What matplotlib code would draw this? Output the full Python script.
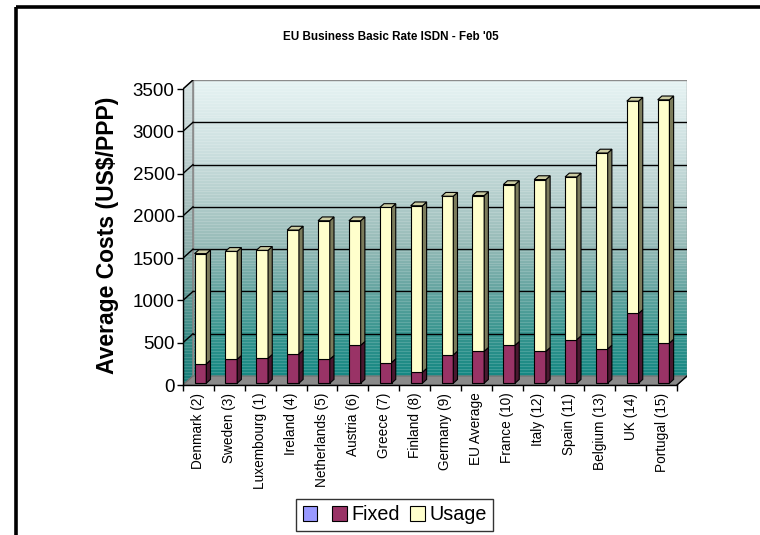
import numpy as np
import matplotlib
matplotlib.use("Agg")
import matplotlib.pyplot as plt
from matplotlib.patches import Polygon, Patch
from matplotlib.lines import Line2D
from matplotlib.colors import LinearSegmentedColormap

plt.rcParams['font.family'] = ['Liberation Sans', 'DejaVu Sans']

# ---- data -------------------------------------------------------------
countries = ["Denmark (2)", "Sweden (3)", "Luxembourg (1)", "Ireland (4)",
             "Netherlands (5)", "Austria (6)", "Greece (7)", "Finland (8)",
             "Germany (9)", "EU Average", "France (10)", "Italy (12)",
             "Spain (11)", "Belgium (13)", "UK (14)", "Portugal (15)"]
fixed = [228, 283, 295, 346, 283, 448, 244, 130, 334, 377, 448, 377, 515, 405, 825, 475]
usage = [1304, 1276, 1276, 1465, 1638, 1473, 1834, 1968, 1877, 1842, 1901, 2031, 1924, 2317, 2510, 2876]
yticks = [0, 500, 1000, 1500, 2000, 2500, 3000, 3500]

title = "EU Business Basic Rate ISDN - Feb '05"
ylabel = "Average Costs (US$/PPP)"

# ---- colours ----------------------------------------------------------
FIXED = "#993366"
FIXED_SIDE = "#4a1830"
USAGE = "#FFFFCC"
USAGE_SIDE = "#7c7c5c"
USAGE_TOP = "#cdcda3"
EMPTY = "#9999FF"
FLOOR = "#8a8a8a"

wall_cmap = LinearSegmentedColormap.from_list(
    "wall", [(0.0, "#168883"), (0.15, "#3a9690"), (0.3, "#68a6a2"),
             (0.45, "#97bbb8"), (0.6, "#b4cecc"), (0.78, "#cee1e1"),
             (1.0, "#e6f3f3")])

# ---- figure -----------------------------------------------------------
W, H = 760, 535
fig = plt.figure(figsize=(W / 100, H / 100), dpi=100)
fig.patch.set_facecolor("white")

# outer frame (top and left edges)
fig.add_artist(Line2D([15.5 / W, 1.0], [1 - 7 / H, 1 - 7 / H], color="black",
                      lw=2.6, transform=fig.transFigure, solid_capstyle="butt"))
fig.add_artist(Line2D([15.5 / W, 15.5 / W], [0, 1 - 7 / H], color="black",
                      lw=2.6, transform=fig.transFigure, solid_capstyle="butt"))

ax = fig.add_axes([183 / W, 150 / H, 504 / W, 305 / H])
n = len(countries)
x = np.arange(n)
ymax = yticks[-1]
dxc = 10 / 30.875            # depth offset in category units
dyv = 9 * ymax / 296         # depth offset in value units
ax.set_xlim(-0.5, n - 0.5 + dxc)
ax.set_ylim(0, ymax + dyv)
ax.set_facecolor("none")

# gradient walls with fine horizontal banding
rows = 300
grad = wall_cmap(np.linspace(0, 1, rows))[:, :3]
band = (np.arange(rows) % 3 == 0)
grad[band] = grad[band] * 0.85 + 0.15
img = grad[::-1].reshape(rows, 1, 3)

ax.imshow(img, extent=(-0.5 + dxc, n - 0.5 + dxc, dyv, ymax + dyv),
          aspect="auto", interpolation="nearest", zorder=0)
side_poly = Polygon([(-0.5, 0), (-0.5 + dxc, dyv), (-0.5 + dxc, ymax + dyv),
                     (-0.5, ymax)], closed=True, facecolor="none",
                    edgecolor="#808080", lw=1.0, zorder=1)
ax.add_patch(side_poly)
side_img = ax.imshow(img * 0.93, extent=(-0.5, -0.5 + dxc, 0, ymax + dyv),
                     aspect="auto", interpolation="nearest", zorder=0)
side_img.set_clip_path(side_poly)

# back wall outline
ax.add_patch(Polygon([(-0.5 + dxc, dyv), (n - 0.5 + dxc, dyv),
                      (n - 0.5 + dxc, ymax + dyv), (-0.5 + dxc, ymax + dyv)],
                     closed=True, facecolor="none", edgecolor="#8c8c8c",
                     lw=1.0, zorder=1))

# floor
ax.add_patch(Polygon([(-0.5, 0), (n - 0.5, 0), (n - 0.5 + dxc, dyv),
                      (-0.5 + dxc, dyv)], closed=True, facecolor=FLOOR,
                     edgecolor="#6e6e6e", lw=0.8, zorder=1))
ax.plot([n - 0.5, n - 0.5 + dxc], [0, dyv], color="black", lw=1.0, zorder=2)

# gridlines on back and side wall
for v in yticks[1:-1]:
    ax.plot([-0.5 + dxc, n - 0.5 + dxc], [v + dyv, v + dyv], color="black",
            lw=1.0, zorder=2)
    ax.plot([-0.5, -0.5 + dxc], [v, v + dyv], color="black", lw=1.0, zorder=2)
ax.plot([-0.5, -0.5 + dxc], [ymax, ymax + dyv], color="black", lw=1.0, zorder=2)

# bars with 3-D side and top faces
f = 0.2           # front face position within the depth
w = 0.38          # bar width
sd = 0.42         # bar depth as a fraction of the wall depth
xc = x + f * dxc
base = f * dyv
fixed_a = np.array(fixed, dtype=float)
usage_a = np.array(usage, dtype=float)
ax.bar(xc, fixed_a, w, bottom=base, color=FIXED, edgecolor="black", lw=0.8,
       zorder=4)
ax.bar(xc, usage_a, w, bottom=base + fixed_a, color=USAGE, edgecolor="black",
       lw=0.8, zorder=4)

ddx, ddy = sd * dxc, sd * dyv
for i in range(n):
    x1 = xc[i] + w / 2
    x0 = xc[i] - w / 2
    y0 = base
    y1 = base + fixed_a[i]
    y2 = y1 + usage_a[i]
    ax.add_patch(Polygon([(x1, y0), (x1 + ddx, y0 + ddy), (x1 + ddx, y1 + ddy),
                          (x1, y1)], closed=True, facecolor=FIXED_SIDE,
                         edgecolor="black", lw=0.8, zorder=4))
    ax.add_patch(Polygon([(x1, y1), (x1 + ddx, y1 + ddy), (x1 + ddx, y2 + ddy),
                          (x1, y2)], closed=True, facecolor=USAGE_SIDE,
                         edgecolor="black", lw=0.8, zorder=4))
    ax.add_patch(Polygon([(x0, y2), (x1, y2), (x1 + ddx, y2 + ddy),
                          (x0 + ddx, y2 + ddy)], closed=True,
                         facecolor=USAGE_TOP, edgecolor="black", lw=0.8,
                         zorder=4))

# axes, ticks and labels
for s in ("top", "right"):
    ax.spines[s].set_visible(False)
ax.spines["left"].set_bounds(0, ymax)
ax.spines["bottom"].set_bounds(-0.5, n - 0.5)
for s in ("left", "bottom"):
    ax.spines[s].set_linewidth(1.0)
    ax.spines[s].set_zorder(5)

ax.set_yticks(yticks)
ax.set_yticklabels([str(v) for v in yticks])
ax.tick_params(axis="y", length=4, width=1.0, pad=2, labelsize=13.5)

ax.set_xticks(x)
ax.set_xticklabels(countries, rotation=90, fontsize=9.8)
ax.set_xticks(np.arange(-0.5, n, 1.0), minor=True)
ax.tick_params(axis="x", which="major", length=0, pad=5.5)
ax.tick_params(axis="x", which="minor", length=4, width=1.0)

fig.text(391 / W, 1 - 37 / H, title, ha="center", va="center",
         fontsize=8.4, fontweight="bold")
fig.text(108 / W, 1 - 235 / H, ylabel, ha="center", va="center",
         rotation=90, fontsize=16.5, fontweight="bold")

handles = [Patch(facecolor=EMPTY, edgecolor="black", lw=0.8),
           Patch(facecolor=FIXED, edgecolor="black", lw=0.8),
           Patch(facecolor=USAGE, edgecolor="black", lw=0.8)]
leg = fig.legend(handles, ["", "Fixed", "Usage"], ncol=3,
                 loc="center", bbox_to_anchor=(394.5 / W, 1 - 515 / H),
                 fontsize=14.2, frameon=True, fancybox=False,
                 handlelength=0.75, handleheight=0.75, handletextpad=0.2,
                 columnspacing=0.55, borderpad=0.32, borderaxespad=0)
leg.get_frame().set_edgecolor("black")
leg.get_frame().set_linewidth(1.0)

fig.savefig("out.png", dpi=100)
